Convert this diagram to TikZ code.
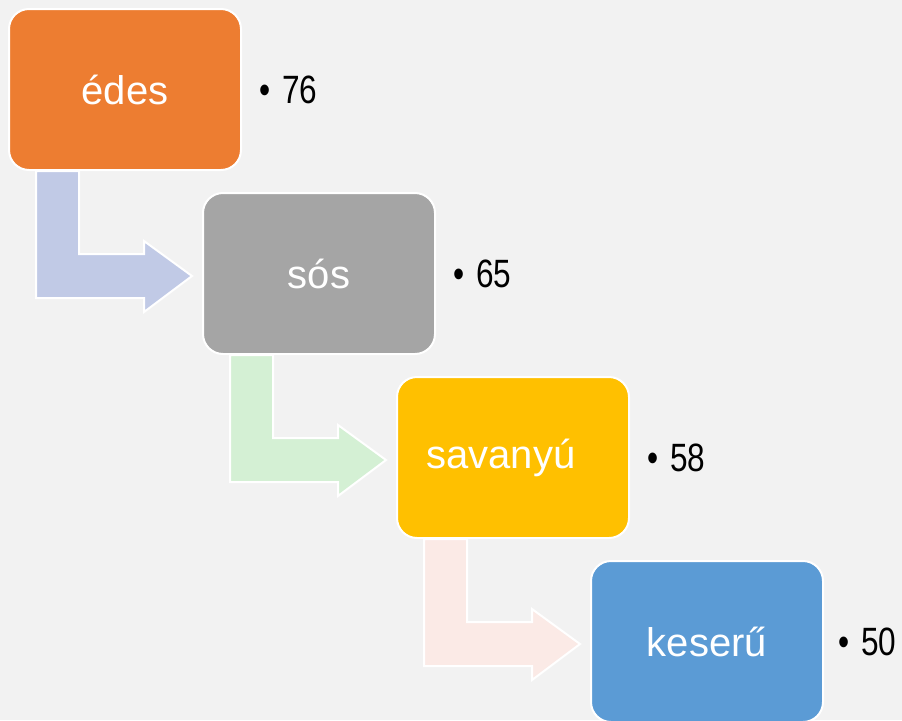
\documentclass[tikz,border=0pt]{standalone}
\usepackage{fontspec}
\usepackage{tikz}
\usetikzlibrary{calc}
\usetikzlibrary{positioning}
\newfontfamily\diafont{Liberation Sans}
\newfontfamily\numfont[FakeStretch=0.8]{Liberation Sans}
\definecolor{bgGray}{HTML}{F2F2F2}
\definecolor{edesOrange}{HTML}{ED7D31}
\definecolor{sosGray}{HTML}{A5A5A5}
\definecolor{savanyuGold}{HTML}{FFC000}
\definecolor{keseruBlue}{HTML}{5B9BD5}
\definecolor{arrowBlue}{HTML}{C1CAE6}
\definecolor{arrowGreen}{HTML}{D4F0D4}
\definecolor{arrowPink}{HTML}{FBEAE6}
\pgfdeclarelayer{bg}
\pgfdeclarelayer{arrows}
\pgfsetlayers{bg,arrows,main}
\tikzset{
  stepbox/.style={rectangle, rounded corners=20pt, draw=white, line width=2pt, minimum width=232pt, minimum height=161pt, text=white, font=\diafont\fontsize{40}{48}\selectfont},
  countlabel/.style={inner sep=0pt, anchor=west, text=black, font=\numfont\fontsize{39.5}{46}\selectfont}
}
\newcommand{\bulletcount}[1]{•\hspace{12pt}#1}
% bent step arrow from the bottom of #1 to the left side of #2
\newcommand{\steparrow}[3]{%
  \path[fill=#3, draw=white, line width=2pt, line join=miter]
    let \p1=(#1.south west), \p2=(#2.west) in
    (\x1+28pt,\y1) -- (\x1+71pt,\y1) -- (\x1+71pt,\y2+19.5pt) -- (\x2-58pt,\y2+19.5pt) -- (\x2-58pt,\y2+32.5pt) -- (\x2-10pt,\y2-2.5pt) -- (\x2-58pt,\y2-38.5pt) -- (\x2-58pt,\y2-24.5pt) -- (\x1+28pt,\y2-24.5pt) -- cycle;}

\begin{document}
\begin{tikzpicture}[x=1pt, y=-1pt]

\useasboundingbox (0,0) rectangle (902,720);
\clip (0,0) rectangle (902,720);
\begin{pgfonlayer}{bg}
\fill[bgGray] (0,0) rectangle (902,720);
\end{pgfonlayer}

\node at (125,89.5) [stepbox, fill=edesOrange] (edes) {édes};
\node at (319,273.5) [stepbox, fill=sosGray] (sos) {sós};
\node at (513,457.5) [stepbox, fill=savanyuGold] (savanyu) {savanyú\hspace*{24pt}};
\node at (707,641.5) [stepbox, fill=keseruBlue] (keseru) {keserű};

\begin{pgfonlayer}{arrows}
\steparrow{edes}{sos}{arrowBlue}
\steparrow{sos}{savanyu}{arrowGreen}
\steparrow{savanyu}{keseru}{arrowPink}
\end{pgfonlayer}

\node [countlabel, right=17pt of edes] (edesnum) {\bulletcount{76}};
\node [countlabel, right=17pt of sos] (sosnum) {\bulletcount{65}};
\node [countlabel, right=17pt of savanyu] (savanyunum) {\bulletcount{58}};
\node [countlabel, right=14pt of keseru] (keserunum) {\bulletcount{50}};

\end{tikzpicture}
\end{document}
